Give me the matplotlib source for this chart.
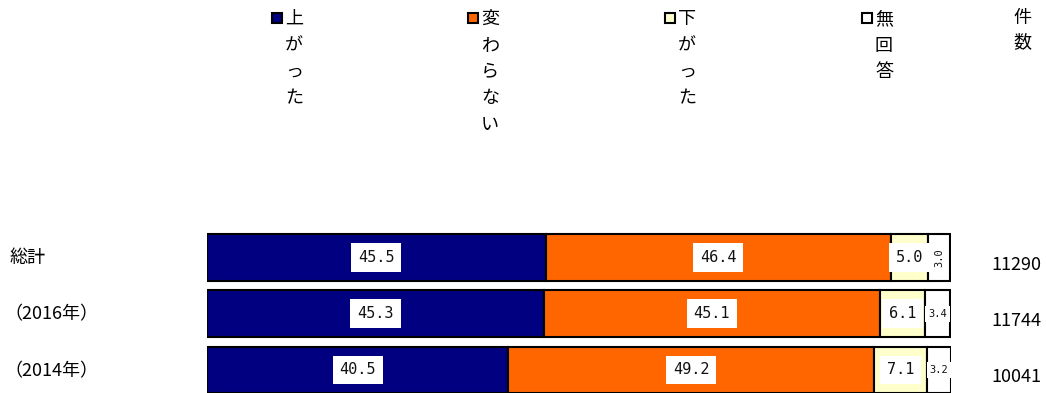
import matplotlib
matplotlib.use("Agg")
import matplotlib.pyplot as plt

plt.rcParams['font.family'] = ['Noto Sans CJK JP', 'DejaVu Sans']

categories = ["総計", "（2016年）", "（2014年）"]
series_names = ["上がった", "変わらない", "下がった", "無回答"]
values = [
    [45.5, 46.4, 5.0, 3.0],
    [45.3, 45.1, 6.1, 3.4],
    [40.5, 49.2, 7.1, 3.2],
]
counts = ["11290", "11744", "10041"]
count_header = "件数"
colors = ["#000080", "#FF6600", "#FFFFCC", "#FFFFFF"]

W, H = 1046, 393
fig = plt.figure(figsize=(W / 100, H / 100), dpi=100)

def fx(x):
    return x / W

def fy(y):
    return 1 - y / H

# Axes positioned in pixel terms
ax_left, ax_right = 207, 951
ax_top, ax_bot = 229, 393
ax = fig.add_axes([fx(ax_left), fy(ax_bot), (ax_right - ax_left) / W, (ax_bot - ax_top) / H])
ax.set_xlim(0, 100)
ax.set_ylim(2.409, -0.507)
ax.axis('off')

num_font = ['DejaVu Sans Mono', 'Noto Sans CJK JP']
bar_h = 0.835
for i, row in enumerate(values):
    left = 0
    for j, v in enumerate(row):
        ax.barh(i, v, left=left, height=bar_h, color=colors[j], edgecolor='black', linewidth=1.5)
        cx = left + v / 2
        if j < 3:
            ax.text(cx, i, f"{v:.1f}", ha='center', va='center', fontsize=11, color='#111111',
                    family=num_font,
                    bbox=dict(facecolor='white', edgecolor='none', pad=5))
        else:
            rot = 90 if v <= 3.0 else 0
            ax.text(cx, i, f"{v:.1f}", ha='center', va='center', fontsize=7.5, color='#111111',
                    rotation=rot, family=num_font,
                    bbox=dict(facecolor='white', edgecolor='none', pad=2))
        left += v

# Row labels and counts
row_centers = [257.5, 313.5, 370]
for lab, cnt, yc in zip(categories, counts, row_centers):
    xl = 9 if not lab.startswith("（") else 4
    fig.text(fx(xl), fy(yc + 1), lab, ha='left', va='center', fontsize=13)
    fig.text(fx(1041), fy(yc + 7), cnt, ha='right', va='center', fontsize=13)

# Legend with vertical text
leg_x = [272, 468, 665, 862]
char_step = 26.5
for name, c, x in zip(series_names, colors, leg_x):
    fig.patches.append(plt.Rectangle((fx(x), fy(23)), 10 / W, 10 / H, transform=fig.transFigure,
                                     facecolor=c, edgecolor='black', linewidth=1.5))
    for k, ch in enumerate(name):
        fig.text(fx(x + 22), fy(19 + k * char_step), ch, ha='center', va='center', fontsize=13)

for k, ch in enumerate(count_header):
    fig.text(fx(1022), fy(18 + k * 24), ch, ha='center', va='center', fontsize=13)

fig.savefig("out.png", dpi=100)
